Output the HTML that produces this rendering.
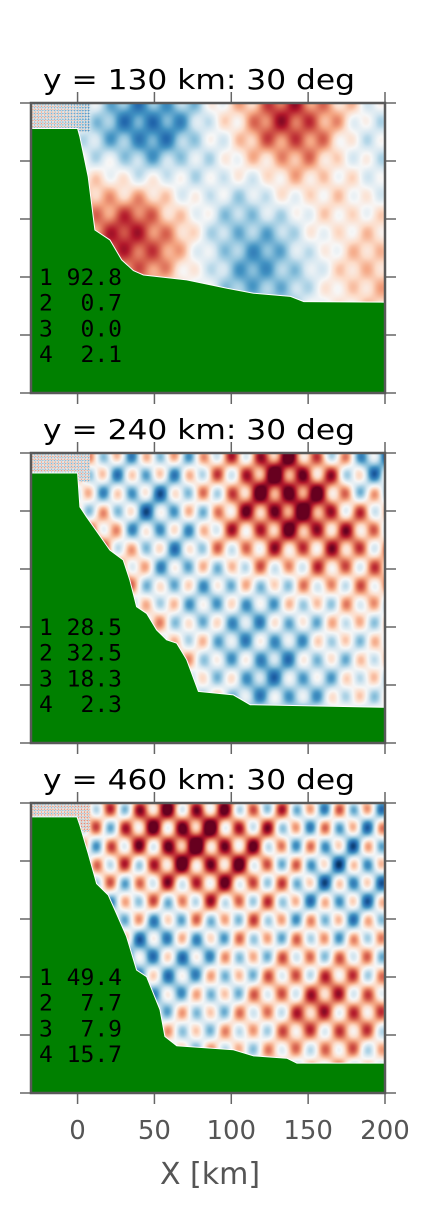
<!DOCTYPE html>
<html><head><meta charset="utf-8">
<style>
html,body{margin:0;padding:0;background:#fff;}
#wrap{position:relative;width:426px;height:1218px;overflow:hidden;background:#fff;}
canvas{position:absolute;}
svg{position:absolute;left:0;top:0;}
</style></head>
<body>
<div id="wrap">
<canvas id="c0" width="354" height="290" style="left:31px;top:103px"></canvas>
<canvas id="c1" width="354" height="290" style="left:31px;top:453px"></canvas>
<canvas id="c2" width="354" height="290" style="left:31px;top:803px"></canvas>
<svg id="ov" width="426" height="1218"></svg>
</div>
<script>
// ---- data ----
const titles = ["y = 130 km: 30 deg","y = 240 km: 30 deg","y = 460 km: 30 deg"];
const xTicks = [0,50,100,150,200];
const modeLabels = [["1 92.8","2  0.7","3  0.0","4  2.1"],["1 28.5","2 32.5","3 18.3","4  2.3"],["1 49.4","2  7.7","3  7.9","4 15.7"]];
// bathymetry: x in km, depth as fraction of panel height
const bathX0 = [-30.3,0,1.5,6.9,11.3,21,28.7,36.3,42.8,71,97.2,114.5,138.5,147.2,200];
const bathD0 = [.088,.088,.117,.255,.438,.472,.541,.578,.593,.61,.639,.656,.667,.685,.687];
const bathX1 = [-30.3,0,1.5,5.8,21,29.7,34,38.4,44.9,51.4,57.9,64.5,71,78.6,101.4,112.3,200];
const bathD1 = [.069,.069,.186,.22,.335,.369,.438,.53,.553,.61,.644,.656,.713,.822,.834,.868,.877];
const bathX2 = [-30.3,-0.4,1.5,6.9,12.4,20,24.3,31.9,38.4,44.9,53.6,56.8,64.5,101.4,114.5,136.2,142.7,200];
const bathD2 = [.048,.048,.077,.174,.278,.318,.369,.461,.576,.599,.713,.805,.837,.851,.872,.88,.897,.897];
// wave field blobs: centre x (km), centre depth frac, amplitude
const blobX0=[45,140,40,25,120,110,190,195,160];
const blobD0=[.08,.05,.5,.4,.6,.4,.15,.6,.3];
const blobA0=[-.7,.75,.5,.35,-.45,-.3,-.3,.3,.2];
const blobX1=[15,40,135,150,100,110,130,195,40,185,60];
const blobD1=[.35,.22,.05,.2,.3,.55,.8,.02,.7,.35,.4];
const blobA1=[.8,-.55,.6,.45,.35,-.3,-.4,-.5,.3,.3,-.35];
const blobX2=[55,75,110,170,150,178,40,70,100];
const blobD2=[.05,.2,.25,.25,.7,.7,.55,.5,.1];
const blobA2=[.4,.35,.2,-.35,.3,.25,-.25,-.2,.2];
const texAmp=[.15,.4,.5];

const bathX=[bathX0,bathX1,bathX2], bathD=[bathD0,bathD1,bathD2];
const blobX=[blobX0,blobX1,blobX2], blobD=[blobD0,blobD1,blobD2], blobA=[blobA0,blobA1,blobA2];

// ---- geometry ----
const L=31, R=385, W=354, H=290, tops=[103,453,803];
const sx = km => L + (km + 30.3) * (W/230.3);
const sy = (i,f) => tops[i] + f*H;

const cmap=[[5,48,97],[33,102,172],[67,147,195],[146,197,222],[209,229,240],[247,247,247],[253,219,199],[244,165,130],[214,96,77],[178,24,43],[103,0,31]];
function col(v){v=Math.max(-1,Math.min(1,v));let t=(v+1)/2*10;let i=Math.min(9,Math.floor(t));let f=t-i;
 const a=cmap[i],b=cmap[i+1];return [a[0]+(b[0]-a[0])*f,a[1]+(b[1]-a[1])*f,a[2]+(b[2]-a[2])*f];}

for(let p=0;p<3;p++){
 const cv=document.getElementById('c'+p);const ctx=cv.getContext('2d');
 const img=ctx.createImageData(W,H);
 for(let y=0;y<H;y++){for(let x=0;x<W;x++){
  const km=x*230.3/W-30.3, f=y/H;
  let v=0;
  for(let k=0;k<blobX[p].length;k++){
   const dx=(km-blobX[p][k])/38, dy=(f-blobD[p][k])/.18;
   v+=blobA[p][k]*Math.exp(-(dx*dx+dy*dy));
  }
  let amp=texAmp[p]*(1-0.4*f);
  if(km<8 && f<0.1){
   v+=0.6*Math.sin((x+y)*1.1)*Math.sin((x-y)*1.1);
  } else {
   const a1=amp*0.6*Math.sin(0.22*x+0.17*y+p);
   const a2=amp*0.6*Math.sin(0.22*x-0.17*y+2*p);
   const a3=amp*0.35*Math.sin(0.1*x+0.08*y+1);
   v+=a1+a2+a3;
  }
  const c=col(v);const o=(y*W+x)*4;
  img.data[o]=c[0];img.data[o+1]=c[1];img.data[o+2]=c[2];img.data[o+3]=255;
 }}
 ctx.putImageData(img,0,0);
}

const NS='http://www.w3.org/2000/svg';
const ov=document.getElementById('ov');
function mk(tag,attrs,parent){const e=document.createElementNS(NS,tag);for(const k in attrs)e.setAttribute(k,attrs[k]);(parent||ov).appendChild(e);return e;}

for(let p=0;p<3;p++){
 const g=mk('g',{});
 
 
 let pts=[];
 for(let k=0;k<bathX[p].length;k++) pts.push(sx(bathX[p][k]).toFixed(1)+','+sy(p,bathD[p][k]).toFixed(1));
 pts.push(R+','+(tops[p]+H)); pts.push(L+','+(tops[p]+H));
 const poly=mk('polygon',{points:pts.join(' '),fill:'#008000',stroke:'#fff','stroke-width':'1'},g);
 
 
 for(const t of xTicks){const x=sx(t);
  mk('line',{x1:x,x2:x,y1:tops[p]-11,y2:tops[p],stroke:'#666','stroke-width':1.5},g);
  mk('line',{x1:x,x2:x,y1:tops[p]+H,y2:tops[p]+H+11,stroke:'#666','stroke-width':1.5},g);}
 for(let k=0;k<6;k++){const y=tops[p]+k*H/5;
  mk('line',{x1:20,x2:L,y1:y,y2:y,stroke:'#666','stroke-width':1.5},g);
  mk('line',{x1:R,x2:396,y1:y,y2:y,stroke:'#666','stroke-width':1.5},g);}
 const fr=mk('rect',{x:L,y:tops[p],width:W,height:H,fill:'none',stroke:'#595959','stroke-width':2.5},g);
 
 
 const tt=mk('text',{x:43,y:tops[p]-14,'font-family':'DejaVu Sans, Liberation Sans, sans-serif','font-size':28,fill:'#000',textLength:312,lengthAdjust:'spacingAndGlyphs'},g);
 tt.textContent=titles[p];
 
 
 for(let k=0;k<4;k++){
  const t=mk('text',{x:39,y:tops[p]+182+k*25.7,'font-family':'DejaVu Sans Mono, Liberation Mono, monospace','font-size':22,fill:'#000',textLength:83,lengthAdjust:'spacingAndGlyphs','xml:space':'preserve'},g);
  t.style.whiteSpace='pre';
  t.textContent=modeLabels[p][k];
  
  
 }
}
for(const t of xTicks){
 const e=mk('text',{x:sx(t),y:1139,'text-anchor':'middle','font-family':'DejaVu Sans, Liberation Sans, sans-serif','font-size':26,fill:'#555'});
 e.textContent=String(t);
 
 
}
const xl=mk('text',{x:210,y:1184,'text-anchor':'middle','font-family':'DejaVu Sans, Liberation Sans, sans-serif','font-size':30,fill:'#555'});
xl.textContent='X [km]';


</script>
</body></html>
